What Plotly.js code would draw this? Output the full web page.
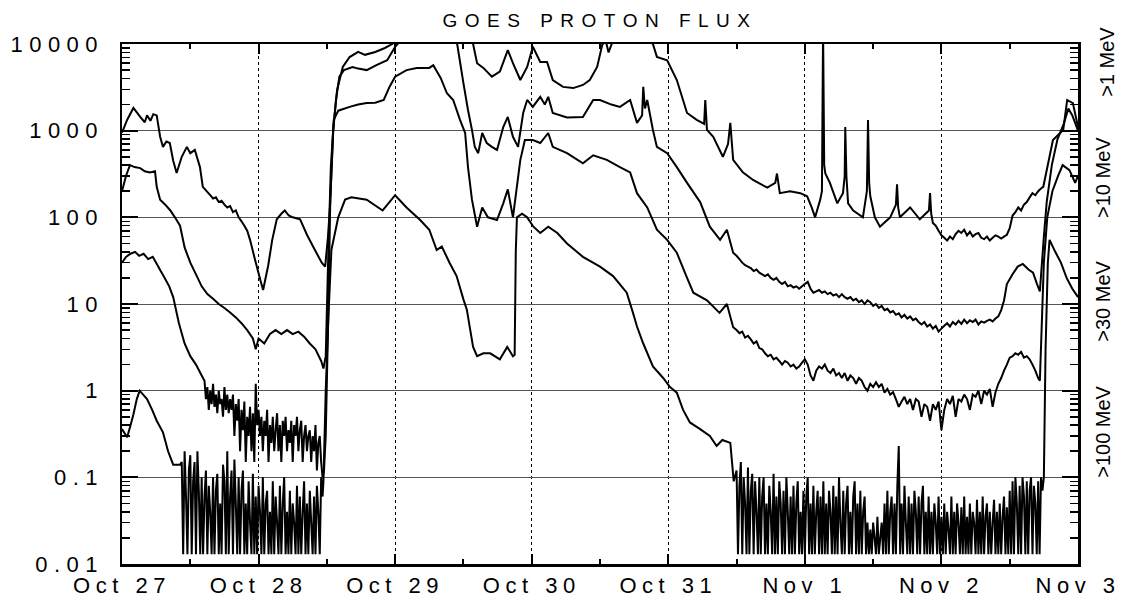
<!DOCTYPE html>
<html><head><meta charset="utf-8">
<script src="https://cdn.plot.ly/plotly-3.0.1.min.js"></script>
<style>
html,body{margin:0;padding:0;background:#fff;}
#chart{width:1123px;height:599px;}
.xtick text{letter-spacing:5.5px;}
.ytick text{letter-spacing:6.5px;}
.gtitle{letter-spacing:7.5px;}
</style></head><body><div id="chart"></div>
<script>
// ---- axis labels ----
const dayHours = [0, 24, 48, 72, 96, 120, 144, 168];
const dayLabels = ["Oct 27", "Oct 28", "Oct 29", "Oct 30", "Oct 31", "Nov 1", "Nov 2", "Nov 3"];
const decadeVals = [0.01, 0.1, 1, 10, 100, 1000, 10000];
const decadeLabels = ["0.01", "0.1", "1", "10", "100", "1000", "10000"];
const channelNames = [">1 MeV", ">10 MeV", ">30 MeV", ">100 MeV"];

// ---- >1 MeV (hours since Oct 27 00 UT, pfu) ----
const p1_head_t = [0,0.9,2.0,3.2,4.0,4.4,5.0,5.5,6.1,6.7,7.2,7.8,8.4,9.0,9.6,10.5,11.4,12.0,12.8,13.7,14.2];
const p1_head_v = [950,1330,1830,1440,1250,1500,1300,1550,1500,850,650,750,720,450,325,500,650,550,600,380,225];
const p1_noiseA_start = 15.5, p1_noiseA_step = 0.5;
const p1_noiseA_v = [180,165,170,150,155,140,130,135,115,120,100,90,80,70,55];
const p1_mid_t = [23.4,24.3,24.8,25.7,26.4,27.2,28.0,28.6,29.3,30.0,31.3,32.5,33.9,35.1,35.7,36.2,36.6,37.1,37.8,38.8,40.0,41.5,42.7,44.5,46.2,47.5,50,54,58,61.0,61.7,62.4,63.5,65.0,66.4,67.8,68.7,70.0,71.2,72.2,73.5,74.7,75.7,77.5,79.3,81.0,82.2,83.5,84.4,85.0,85.5,86.5,88,90,92,93.3,94.0,95.8,97.5,99.3,101.0,102.3,102.5,102.8,103.9,105.6,106.5,106.9,107.4,109.1,110.9,113.4,114.8,115.1,115.6,117.4,119.2,120.4,121.2,121.8,122.7,123.0,123.2,123.4,123.6,124.4,125.7,126.7,127.0,127.1,127.3,127.6,128.5,130.2,130.9,131.1,131.3,131.5,132.3,133.2,135.0,136.0,136.2,136.4,136.7,138.5,140.2,141.8,142.0,142.2,142.5];
const p1_mid_v = [32,19,14.5,28,55,95,110,120,105,100,95,63,42,30,27,60,150,1000,2950,5430,7070,8100,7500,8100,9000,10000,14000,25000,20000,12000,10000,6000,5300,4200,4800,8500,6000,3840,5430,9300,6200,6200,3840,3200,3100,3370,3840,5430,9800,11000,8000,12000,14000,15000,12000,10000,7100,6500,3840,1600,1330,1200,2260,1020,850,500,700,1230,460,330,270,220,250,320,190,200,190,175,130,100,160,200,15000,400,320,250,145,190,300,1100,300,145,120,100,200,1330,250,175,100,78,100,140,240,130,100,130,95,120,190,110,86];
const p1_noiseB_start = 143, p1_noiseB_step = 0.5;
const p1_noiseB_v = [80,70,62,58,54,60,56,64,70,66,72,62,68,60,64,66,58,56,60,54,58,62,60,57,60,63,75,105,115,130,120,140,150,170,190,180,200,215];
const p1_tail_t = [161.9,163.6,165.4,166.1,167.1,168];
const p1_tail_v = [225,780,1020,2260,2080,1100];

// ---- >10 MeV ----
const p10_head_t = [0,0.7,1.4,2.2,3.2,4.0,4.9,5.8,6.1,6.7,7.6,8.5,9.3,10.2,11.0,12.0,13.0,14.0,15.0,16.0,17.0,18.0,19.0,20.0,21.0,22.0,23.0,23.5,24.0,25.0,26.0,27.0,28.0,29.0,30.0,31.0,32.0,33.0,34.0,35.0,35.4,35.8,36.3,36.7,37.1,37.6,38.2,39.0,40.5,41.5,43.0,44.8,46.6,48.0,49,52,54.3,56,58,58.9,60.0,60.8,61.5,62.0,62.6,63.3,64.1,65.0,65.9,67.0,67.8,68.7,69.6,70.5,71.2,72.2,73.5,74.3,74.9,75.7,78.2,81.0,82.8,84.0,86,87.5,89.3,90.5,91.4,91.6,91.9,92.3,93.3,94.0,95.8,97.5,99.3,101.6,103.3,105.1,106.3,107.4];
const p10_head_v = [200,300,400,380,370,340,330,340,225,160,140,120,100,80,45,30,22,16,13,11.5,10,9,8,7,6,5,4,3,4,3.5,4.5,5,4.5,5,4.5,4.8,4.2,3.5,3.0,2.2,1.8,2.5,50,380,1000,2260,4200,5000,5430,5200,5000,5750,6500,9300,11000,20000,29500,20000,13000,10000,3540,1730,1020,650,550,940,720,650,600,1100,1440,850,650,1600,2260,1880,2460,2000,2460,1600,1420,1440,2260,2260,2000,1880,2260,1230,1500,3200,1800,2260,1020,650,550,380,250,150,78,55,72,39];
const p10_noise_start = 108, p10_noise_step = 0.5;
const p10_noise_v = [36,33,30,28,27,26,24,25,23,22,21,22,20,19,20,18,17,18,16,16.5,15.5,16,15,16,17,18,15,13.5,14,14.5,13.5,14,13,13.5,12.5,13,12,13,12,11.5,12,11,11.5,10.5,11,10,11,10.5,9.5,10,9,9.5,8.5,8.8,8,8.3,7.5,7.8,7,7.5,6.8,7.2,6.5,6.8,6.2,5.8,6.2,5.5,5.8,5.2,5.6,4.8,5.2,5.6,6,5.5,6.2,5.8,6.4,5.9,6.6,6,6.5,6.2,6.6,5.8,6.3,6.1,6.4,6.6,6.3,6.8,7.2,8.5];
const p10_tail_t = [155.0,155.5,156.5,157.4,158.3,159.3,160.1,160.8,161.3,162.0,162.5,163.4,164.4,165.5,166.3,167,168];
const p10_tail_v = [11,17,22,27,29,25,23,17,14,60,150,400,800,1200,1800,1500,1000];

// ---- >30 MeV ----
const p30_head_t = [0,0.7,1.5,2.3,3.0,3.8,4.6,5.4,6.0,6.8,7.5,8.3,9.0,10,11,12,13,14];
const p30_head_v = [30,35,38,40,36,38,33,35,30,24,20,16,12,6,3.5,2.5,2,1.5];
const p30_noiseA_start = 14.5, p30_noiseA_step = 0.25;
const p30_noiseA_v = [1.3,0.8,1.1,0.6,1.0,0.7,1.2,0.65,0.9,0.55,1.0,0.7,0.8,0.5,1.1,0.6,0.9,0.55,0.8,0.6,
0.9,0.3,0.7,0.45,0.8,0.2,0.6,0.35,0.75,0.15,0.5,0.3,0.65,0.2,0.55,0.15,1.2,0.4,0.6,
0.3,0.5,0.2,0.45,0.3,0.6,0.15,0.4,0.25,0.5,0.2,0.35,0.55,0.2,0.4,0.15,0.45,0.3,0.5,0.2,0.35,0.25,0.45,0.15,0.4,0.3,0.5,0.2,0.35,0.45,0.15,0.3,0.4,0.2,0.3,
0.35,0.15,0.3,0.2,0.4,0.12,0.25,0.3,0.15,0.1];
const p30_mid_t = [35.5,35.8,36.3,36.6,37.2,38,40,41.5,43,44.5,46,47,48,50,51.8,54,54.7,56,57.1,58.2,59.4,60.3,60.8,61.5,62.4,63.3,64.3,65.9,67.0,67.8,68.7,70.0,70.8,72.2,73.5,74.9,75.7,78.2,81.0,82.8,85.2,87.5,89.3,90.5,92.3,94.0,95.8,97.5,99.3,100.4,102.8,105.0,106.3,107.4];
const p30_mid_v = [0.12,0.3,11,160,1330,1700,1880,2000,2080,2100,2260,3200,4200,5000,5300,5300,5700,4060,2700,2260,1330,940,380,160,78,130,100,93,145,210,100,460,780,780,720,940,650,550,420,520,460,380,330,190,130,72,55,39,20,13.5,11,7.9,10,5.4];
const p30_noiseB_start = 108, p30_noiseB_step = 0.5;
const p30_noiseB_v = [5.0,4.6,4.8,4.1,4.3,3.9,3.5,3.7,3.1,3.0,2.7,2.5,2.6,2.3,2.4,2.2,2.0,2.2,2.1,1.9,2.0,1.8,1.9,2.1,2.3,2.0,1.5,1.3,1.7,1.9,1.8,2.0,1.7,1.6,1.8,1.5,1.6,1.4,1.6,1.3,1.5,1.4,1.2,1.4,1.3,1.1,1.0,1.2,1.1,1.25,1.1,1.2,0.95,1.05,0.9,0.96,0.8,0.65,0.75,0.85,0.7,0.8,0.6,0.8,0.75,0.5,0.7,0.65,0.45,0.7,0.6,0.75,0.35,0.6,0.8,0.7,0.87,0.5,0.8,0.75,0.9,0.8,0.6,0.9,0.85,1.0,0.7,1.0,0.9,1.05,0.65,0.96,1.2,1.4,1.7,2.0,2.4,2.5,2.7,2.6,2.8,2.4,2.5,2.3,2.0,1.7,1.4];
const p30_tail_t = [161.3,162,162.6,163.5,164.5,165.3,166.5,167.5,168];
const p30_tail_v = [1.3,30,100,200,300,400,350,250,300];

// ---- >100 MeV ----
const p100_head_t = [0,0.9,1.5,2.0,2.6,3.1,4.4,5.3,6.1,7.2,8.1,9.0,10.2];
const p100_head_v = [0.36,0.29,0.4,0.53,0.8,1.0,0.8,0.6,0.45,0.33,0.2,0.14,0.14];
const p100_noiseA_start = 10.5, p100_noiseA_step = 0.25;
const p100_noiseA_v = [0.15,0.013,0.2,0.06,0.013,0.12,0.18,0.013,0.09,0.15,
0.013,0.2,0.07,0.013,0.1,0.013,0.06,0.12,0.013,0.08,
0.04,0.013,0.1,0.013,0.07,0.11,0.013,0.05,0.013,0.14,
0.09,0.013,0.2,0.013,0.06,0.12,0.013,0.16,0.05,0.013,
0.1,0.013,0.07,0.12,0.013,0.05,0.013,0.09,0.03,0.013,
0.11,0.013,0.06,0.013,0.08,0.04,0.013,0.1,0.013,0.05,
0.07,0.013,0.04,0.013,0.09,0.013,0.06,0.03,0.013,0.08,
0.013,0.05,0.1,0.013,0.04,0.013,0.07,0.013,0.05,0.03,
0.013,0.08,0.013,0.06,0.013,0.04,0.09,0.013,0.05,0.013,
0.07,0.03,0.013,0.06,0.013,0.08,0.04,0.013,0.1,0.06];
const p100_mid_t = [35.4,35.8,36.3,36.8,38.0,39.2,40.3,43,45.8,48,50,52.4,54,55.3,56.2,57.6,58.8,60,60.6,61.2,61.7,62.4,63.5,64.7,66.4,67.7,68.7,69.0,69.2,69.4,70.3,71.2,72.3,73.5,74.9,76.5,78.2,81,84,86.3,88.7,89.8,90.5,91.6,93.3,95.1,96.3,97.5,98.6,99.8,101.6,103.3,104.5,105.5,106.9,107.5];
const p100_mid_v = [0.09,1,7.9,42,100,160,170,160,120,180,130,93,72,42,46,29.5,21,11.3,8.6,5,3.2,2.5,2.7,2.7,2.3,3.2,2.5,2.6,40,100,110,100,78,66,78,66,50,35,27,21,13.5,7.9,5.5,3.5,1.9,1.4,1.1,0.95,0.6,0.43,0.36,0.3,0.23,0.27,0.25,0.09];
const p100_noiseB_start = 108, p100_noiseB_step = 0.25;
const p100_noiseB_v = [0.12,0.013,0.08,0.15,0.013,0.1,0.05,0.013,0.13,0.013,0.07,0.11,0.013,0.09,0.04,0.013,0.1,0.013,
0.06,0.1,0.013,0.05,0.013,0.08,0.04,0.013,0.11,0.013,
0.06,0.013,0.09,0.05,0.013,0.07,0.013,0.1,0.04,0.013,
0.06,0.013,0.08,0.013,0.05,0.09,0.013,0.04,0.013,0.07,
0.013,0.06,0.1,0.013,0.05,0.013,0.08,0.013,0.04,0.07,
0.013,0.06,0.013,0.09,0.013,0.05,0.013,0.07,0.04,0.013,
0.08,0.013,0.06,0.013,0.1,0.03,0.013,0.07,0.013,0.05,
0.08,0.013,0.04,0.013,0.06,0.09,0.013,0.05,0.013,0.07,
0.013,0.04,0.06,0.013,
0.03,0.013,0.025,0.013,0.03,0.02,0.013,0.035,0.013,0.02,0.03,0.013,
0.05,0.013,0.07,0.013,0.04,0.06,0.013,0.05,0.013,0.08,
0.23,0.013,0.05,0.013,0.08,0.03,0.013,0.06,0.013,0.05,
0.013,0.07,0.04,0.013,0.06,0.013,0.05,0.08,0.013,0.04,
0.013,0.06,
0.013,0.04,0.013,0.05,0.03,0.013,0.06,0.013,0.035,0.013,
0.05,0.013,0.04,0.025,0.013,0.06,0.013,0.04,0.013,0.05,
0.03,0.013,0.045,0.013,0.06,0.013,0.035,0.013,0.05,0.013,
0.04,0.03,0.013,0.055,0.013,0.04,0.013,0.06,0.013,0.035,
0.05,0.013,0.04,0.013,0.03,0.055,0.013,0.04,0.013,0.05,
0.013,0.035,0.06,0.013,0.045,0.013,
0.07,0.013,0.09,0.013,0.1,0.05,0.013,0.08,0.013,0.1,
0.06,0.013,0.09,0.013,0.07,0.1,0.013,0.08,0.05,0.013,
0.09,0.013,0.1,0.07];
const p100_tail_t = [162.0,162.3,162.7,163.0,164,165,166,167,168];
const p100_tail_v = [0.1,3,30,55,40,30,20,15,12];

// ---- assemble ----
function sampled(start, step, vals) { return vals.map((_, i) => start + i * step); }
const p1_t = [].concat(p1_head_t, sampled(p1_noiseA_start, p1_noiseA_step, p1_noiseA_v), p1_mid_t, sampled(p1_noiseB_start, p1_noiseB_step, p1_noiseB_v), p1_tail_t);
const p1_v = [].concat(p1_head_v, p1_noiseA_v, p1_mid_v, p1_noiseB_v, p1_tail_v);
const p10_t = [].concat(p10_head_t, sampled(p10_noise_start, p10_noise_step, p10_noise_v), p10_tail_t);
const p10_v = [].concat(p10_head_v, p10_noise_v, p10_tail_v);
const p30_t = [].concat(p30_head_t, sampled(p30_noiseA_start, p30_noiseA_step, p30_noiseA_v), p30_mid_t, sampled(p30_noiseB_start, p30_noiseB_step, p30_noiseB_v), p30_tail_t);
const p30_v = [].concat(p30_head_v, p30_noiseA_v, p30_mid_v, p30_noiseB_v, p30_tail_v);
const p100_t = [].concat(p100_head_t, sampled(p100_noiseA_start, p100_noiseA_step, p100_noiseA_v), p100_mid_t, sampled(p100_noiseB_start, p100_noiseB_step, p100_noiseB_v), p100_tail_t);
const p100_v = [].concat(p100_head_v, p100_noiseA_v, p100_mid_v, p100_noiseB_v, p100_tail_v);

const series = [[p1_t, p1_v], [p10_t, p10_v], [p30_t, p30_v], [p100_t, p100_v]];
const traces = series.map((s, i) => ({
  x: s[0], y: s[1], type: 'scatter', mode: 'lines', name: channelNames[i],
  line: {color: '#000', width: 2, simplify: false}, hoverinfo: 'skip', showlegend: false
}));

const minorY = [];
for (let d = -2; d < 4; d++) for (let k = 2; k <= 9; k++) minorY.push(k * Math.pow(10, d));
const halfDays = dayHours.slice(0, -1).map(h => h + 12);

const FONT = 'Liberation Sans, Arial, Helvetica, sans-serif';
const chanY = [0.965, 0.744, 0.506, 0.254];
const chanX = [1.031, 1.026, 1.026, 1.026];

const layout = {
  width: 1123, height: 599,
  margin: {l: 122, r: 45, t: 44, b: 35, pad: 0},
  paper_bgcolor: '#fff', plot_bgcolor: '#fff',
  font: {family: FONT, color: '#000'},
  title: {text: 'GOES PROTON FLUX', font: {family: FONT, size: 19, color: '#000'},
          x: 0.5, xref: 'paper', xanchor: 'center', y: 0.966, yref: 'container', yanchor: 'middle'},
  xaxis: {
    type: 'linear', range: [0, 168], autorange: false,
    tickmode: 'array', tickvals: dayHours, ticktext: dayLabels,
    ticks: 'inside', ticklen: 10, tickwidth: 2, tickcolor: '#000',
    showline: true, linewidth: 2.5, linecolor: '#000', mirror: 'ticks',
    showgrid: true, gridcolor: '#000', griddash: 'dot', gridwidth: 1,
    zeroline: false, tickfont: {family: FONT, size: 22, color: '#000'},
    ticklabelstandoff: 0,
    minor: {tickmode: 'array', tickvals: halfDays, ticks: 'inside', ticklen: 5, tickwidth: 2, tickcolor: '#000', showgrid: false}
  },
  yaxis: {
    type: 'log', range: [-2, 4], autorange: false,
    tickmode: 'array', tickvals: decadeVals, ticktext: decadeLabels,
    ticks: 'inside', ticklen: 16, tickwidth: 2, tickcolor: '#000',
    showline: true, linewidth: 2.5, linecolor: '#000', mirror: 'ticks',
    showgrid: true, gridcolor: '#555', gridwidth: 1,
    zeroline: false, tickfont: {family: FONT, size: 22, color: '#000'},
    ticklabelstandoff: 11,
    minor: {tickmode: 'array', tickvals: minorY, ticks: 'inside', ticklen: 8, tickwidth: 1.5, tickcolor: '#000', showgrid: false}
  },
  annotations: channelNames.map((n, i) => ({
    text: n, xref: 'paper', yref: 'paper', x: chanX[i], y: chanY[i],
    xanchor: 'center', yanchor: 'middle', showarrow: false, textangle: -90,
    font: {family: FONT, size: 20, color: '#000'}
  }))
};

Plotly.newPlot('chart', traces, layout, {staticPlot: true, displayModeBar: false});
</script></body></html>
